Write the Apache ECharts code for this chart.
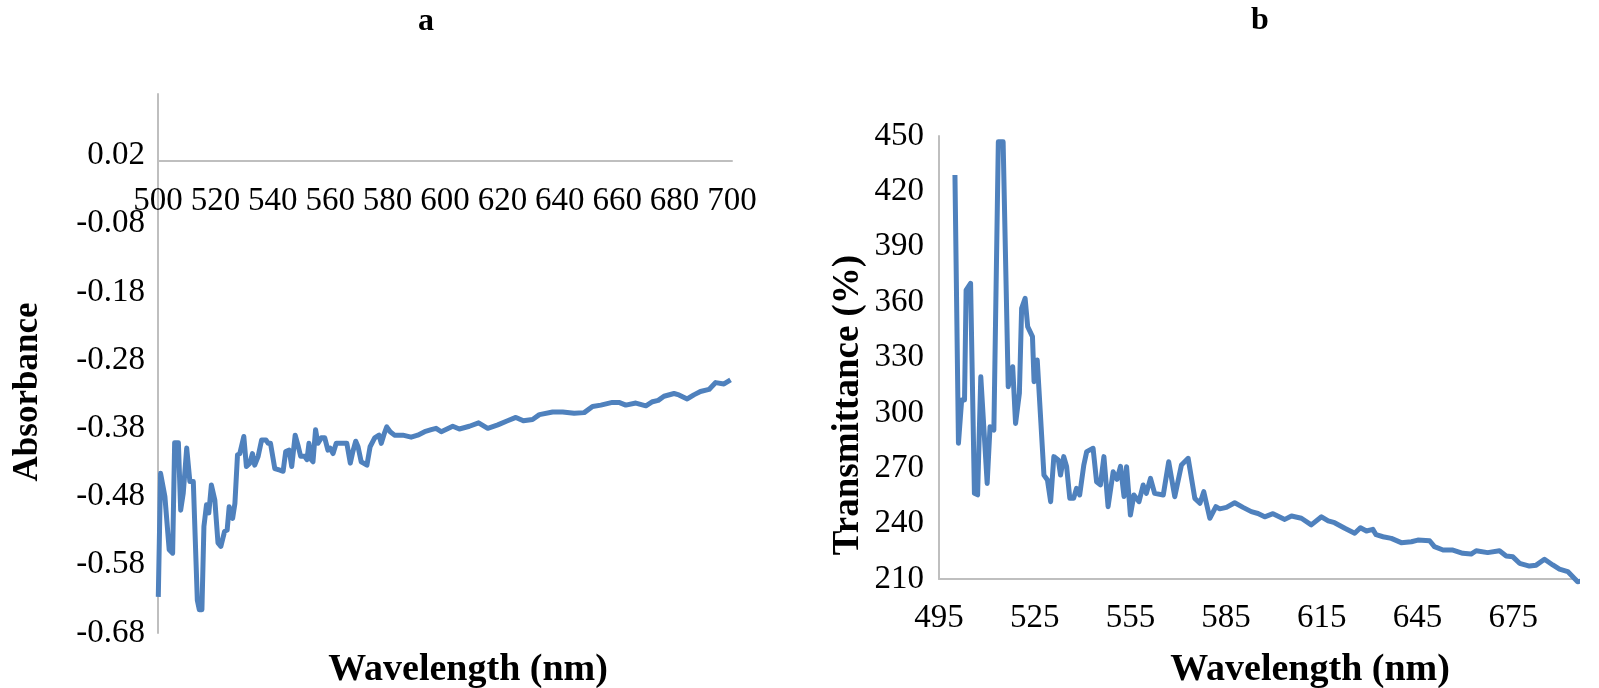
<!DOCTYPE html>
<html>
<head>
<meta charset="utf-8">
<script src="https://cdn.jsdelivr.net/npm/echarts@6/dist/echarts.min.js"></script>
<style>
  html, body { margin: 0; padding: 0; background: #fff; }
  #chart { width: 1599px; height: 688px; }
</style>
</head>
<body>
<div id="chart"></div>
<script>
// panel a: absorbance
const waveA = [500.1, 500.9, 502.4, 502.9, 503.9, 505.1, 505.8, 507.1, 507.9, 508.8, 510.0, 511.1, 512.3, 513.7, 514.4, 515.3,
  516.0, 516.9, 517.7, 518.6, 519.8, 520.9, 521.9, 523.2, 524.1, 524.8, 526.0, 526.8, 527.7, 528.5, 529.9, 530.8,
  532.0, 532.9, 533.7, 534.9, 536.1, 537.6, 538.4, 539.2, 540.7, 542.2, 543.6, 544.5, 545.7, 546.6, 547.8, 548.9,
  549.7, 551.1, 551.9, 552.6, 553.4, 554.0, 554.9, 555.7, 556.9, 558.1, 559.2, 560.0, 561.0, 562.1, 565.0, 565.8,
  567.0, 567.9, 568.9, 569.7, 570.8, 571.6, 572.8, 573.9, 575.5, 577.0, 577.8, 578.9, 579.7, 580.9, 582.4, 585.3,
  588.2, 590.5, 592.9, 595.2, 596.9, 598.7, 602.7, 605.0, 608.5, 611.7, 614.9, 618.4, 621.8, 624.7, 627.3, 630.5,
  632.9, 637.5, 641.0, 645.0, 648.5, 651.4, 654.3, 658.3, 660.6, 663.0, 666.5, 670.0, 672.3, 674.3, 676.3, 679.8,
  681.5, 684.4, 686.7, 689.0, 692.0, 694.3, 697.2, 699.5];
const absA = [-0.627, -0.446, -0.480, -0.480, -0.558, -0.563, -0.401, -0.401, -0.500, -0.475, -0.409, -0.458, -0.458, -0.632, -0.646, -0.646,
  -0.524, -0.492, -0.504, -0.463, -0.485, -0.548, -0.553, -0.531, -0.529, -0.495, -0.512, -0.490, -0.419, -0.417, -0.392, -0.436,
  -0.431, -0.417, -0.434, -0.421, -0.397, -0.397, -0.402, -0.402, -0.439, -0.441, -0.443, -0.414, -0.412, -0.436, -0.390, -0.407,
  -0.421, -0.421, -0.426, -0.402, -0.426, -0.429, -0.382, -0.402, -0.394, -0.394, -0.412, -0.409, -0.417, -0.402, -0.402, -0.402,
  -0.431, -0.414, -0.399, -0.407, -0.429, -0.431, -0.434, -0.407, -0.394, -0.390, -0.402, -0.387, -0.378, -0.385, -0.390, -0.390,
  -0.393, -0.390, -0.385, -0.382, -0.380, -0.385, -0.377, -0.381, -0.377, -0.372, -0.380, -0.375, -0.369, -0.364, -0.369, -0.367,
  -0.360, -0.356, -0.356, -0.358, -0.357, -0.348, -0.346, -0.342, -0.342, -0.346, -0.343, -0.347, -0.341, -0.339, -0.333, -0.329,
  -0.331, -0.337, -0.331, -0.326, -0.323, -0.313, -0.315, -0.309];
const waveTicksA = [500, 520, 540, 560, 580, 600, 620, 640, 660, 680, 700];
const absTicks = [-0.68, -0.58, -0.48, -0.38, -0.28, -0.18, -0.08, 0.02];

// panel b: transmittance
const waveB = [500.0, 501.1, 502.1, 503.0, 503.5, 504.9, 506.1, 507.1, 508.1, 509.1, 510.1, 511.0, 512.2, 513.6, 515.1, 516.7,
  518.1, 519.0, 520.2, 520.9, 522.0, 522.8, 524.3, 524.8, 525.8, 527.9, 529.0, 530.0, 531.0, 532.4, 533.1, 534.1,
  535.0, 536.0, 537.2, 538.1, 539.1, 540.4, 541.3, 543.3, 544.4, 545.6, 546.7, 548.0, 549.6, 550.8, 551.9, 553.0,
  553.8, 555.0, 556.1, 557.7, 559.0, 560.0, 561.3, 562.6, 565.3, 567.0, 568.9, 571.0, 573.1, 575.2, 576.8, 578.0,
  579.9, 581.8, 583.0, 585.1, 587.7, 590.3, 592.9, 595.0, 597.1, 599.7, 603.4, 605.5, 608.6, 611.7, 614.9, 617.0,
  619.0, 622.2, 625.3, 627.1, 629.0, 631.0, 632.0, 634.2, 636.8, 639.9, 643.1, 645.1, 648.8, 650.3, 653.0, 656.1,
  659.2, 661.8, 663.4, 667.0, 670.7, 672.8, 674.9, 677.0, 680.1, 682.2, 684.8, 687.4, 689.5, 692.1, 695.2, 697.8, 700.4];
const transB = [428.9, 283.5, 307.0, 307.0, 366.5, 370.2, 256.4, 255.6, 319.6, 290.7, 261.8, 292.5, 290.7, 446.9, 446.9, 314.2,
  325.0, 294.3, 310.6, 356.6, 362.0, 346.7, 341.3, 316.9, 328.6, 266.3, 263.6, 251.9, 276.3, 274.5, 266.3, 276.3,
  271.0, 253.7, 253.7, 259.1, 255.5, 271.8, 279.0, 280.8, 262.7, 261.0, 276.3, 249.2, 268.1, 264.0, 271.0, 254.7,
  270.8, 244.7, 255.5, 251.9, 260.9, 256.4, 264.5, 256.4, 255.5, 273.5, 254.6, 271.8, 275.4, 253.7, 251.0, 257.3,
  242.9, 249.2, 248.0, 248.8, 251.3, 248.8, 246.5, 245.5, 243.7, 245.4, 242.3, 244.1, 242.9, 239.3, 243.7, 241.5,
  240.5, 237.5, 234.8, 237.8, 236.0, 236.9, 234.0, 232.9, 232.0, 229.7, 230.2, 231.1, 230.7, 227.5, 225.7, 225.7,
  223.9, 223.5, 225.3, 224.3, 225.3, 222.5, 222.0, 218.5, 217.0, 217.5, 220.7, 217.6, 215.3, 214.0, 208.5, 209.5, 207.7];
const waveTicksB = [495, 525, 555, 585, 615, 645, 675];
const transTicks = [210, 240, 270, 300, 330, 360, 390, 420, 450];

const lineColor = '#4F81BD';
const axisColor = '#BFBFBF';
const font = '"Liberation Serif", "Times New Roman", serif';

const axisLine = { show: true, onZero: false, lineStyle: { color: axisColor, width: 2 } };
const noTick = { show: false };
const noSplit = { show: false };
const labelStyle = { color: '#000', fontFamily: font, fontSize: 33 };

function text(x, y, str, size, rotate) {
  return {
    type: 'text', x, y, rotation: rotate ? Math.PI / 2 : 0,
    style: { text: str, font: 'bold ' + size + 'px ' + font, fill: '#000', align: 'center', verticalAlign: 'middle' },
  };
}

const chart = echarts.init(document.getElementById('chart'));

const option = {
  animation: false,
  backgroundColor: '#fff',
  grid: [
    { left: 158, top: 94, width: 574, height: 539 },
    { left: 939, top: 136, width: 638, height: 443 },
  ],
  xAxis: [
    {
      // the wavelength axis of panel a crosses the absorbance axis just under 0.02
      gridIndex: 0, type: 'value', min: 500, max: 700, position: 'top', offset: -67,
      axisLine, axisTick: noTick, splitLine: noSplit,
      axisLabel: { ...labelStyle, inside: true, margin: 24, customValues: waveTicksA },
    },
    {
      gridIndex: 1, type: 'value', min: 495, max: 695,
      axisLine, axisTick: noTick, splitLine: noSplit,
      axisLabel: { ...labelStyle, margin: 23, customValues: waveTicksB },
    },
  ],
  yAxis: [
    {
      gridIndex: 0, type: 'value', min: -0.68, max: 0.11,
      axisLine, axisTick: noTick, splitLine: noSplit,
      axisLabel: { ...labelStyle, margin: 13, customValues: absTicks, formatter: v => v.toFixed(2) },
    },
    {
      gridIndex: 1, type: 'value', min: 210, max: 450,
      axisLine, axisTick: noTick, splitLine: noSplit,
      axisLabel: { ...labelStyle, margin: 15, customValues: transTicks },
    },
  ],
  graphic: [
    text(426, 22, 'a', 32),
    text(1260, 21, 'b', 32),
    text(468, 670, 'Wavelength (nm)', 38),
    text(1310, 670, 'Wavelength (nm)', 38),
    text(28, 392, 'Absorbance', 35, true),
    text(848, 405, 'Transmittance (%)', 37, true),
  ],
  series: [
    {
      type: 'line', xAxisIndex: 0, yAxisIndex: 0,
      data: waveA.map((w, i) => [w, absA[i]]),
      showSymbol: false, symbol: 'none', clip: false,
      lineStyle: { color: lineColor, width: 5, join: 'round' },
    },
    {
      type: 'line', xAxisIndex: 1, yAxisIndex: 1,
      data: waveB.map((w, i) => [w, transB[i]]),
      showSymbol: false, symbol: 'none', clip: false,
      lineStyle: { color: lineColor, width: 5, join: 'round' },
    },
  ],
};

chart.setOption(option);
</script>
</body>
</html>
